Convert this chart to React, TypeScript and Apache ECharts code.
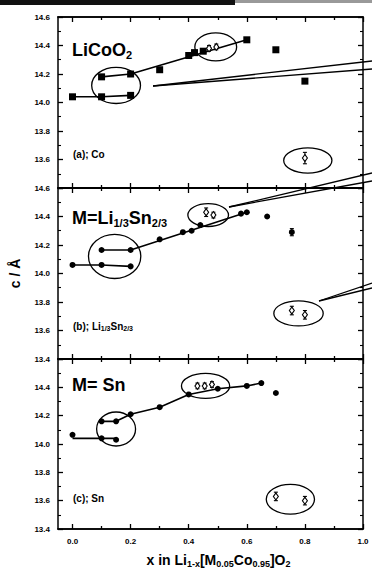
import React, { useEffect, useRef } from "react";
import * as echarts from "echarts";

// ---------- data ----------
// x positions of axis ticks / labels
const xMajorTicks = [0, 0.2, 0.4, 0.6, 0.8, 1.0];
const xMinorTicks = [0.1, 0.3, 0.5, 0.7, 0.9];

// Panel (a): Co — filled squares
const coFilled = [
  [0, 14.04], [0.1, 14.18], [0.1, 14.04], [0.2, 14.2], [0.2, 14.05],
  [0.3, 14.23], [0.4, 14.33], [0.42, 14.35], [0.45, 14.36], [0.6, 14.44],
  [0.7, 14.37], [0.8, 14.15],
];
// open diamonds [x, c, err]
const coOpen = [
  [0.47, 14.38, 0.02], [0.495, 14.39, 0.02], [0.8, 13.61, 0.04],
];
const coLineLow = [[0, 14.04], [0.1, 14.04], [0.2, 14.05]];
const coLineHigh = [[0.1, 14.18], [0.2, 14.2], [0.6, 14.44]];
// ellipses [cx, cy, rx, ry]
const coEllipses = [
  [0.15, 14.12, 0.084, 0.127], [0.493, 14.39, 0.072, 0.098], [0.81, 13.593, 0.083, 0.088],
];

// Panel (b): Li1/3Sn2/3 — filled circles
const lsFilled = [
  [0, 14.06], [0.1, 14.165], [0.1, 14.06], [0.2, 14.165], [0.2, 14.05],
  [0.3, 14.24], [0.38, 14.29], [0.41, 14.3], [0.44, 14.34], [0.58, 14.42],
  [0.6, 14.43], [0.67, 14.4], [0.755, 14.29],
];
const lsFilledErr = [[0.755, 14.29, 0.025]];
const lsOpen = [
  [0.46, 14.43, 0.03], [0.485, 14.41, 0.02], [0.755, 13.74, 0.03], [0.8, 13.71, 0.03],
];
const lsLineLow = [[0, 14.06], [0.1, 14.06], [0.2, 14.05]];
const lsLineHigh = [[0.1, 14.165], [0.2, 14.165], [0.6, 14.43]];
const lsEllipses = [
  [0.145, 14.12, 0.09, 0.155], [0.467, 14.41, 0.07, 0.08], [0.778, 13.72, 0.085, 0.088],
];

// Panel (c): Sn — filled circles
const snFilled = [
  [0, 14.065], [0.1, 14.16], [0.1, 14.04], [0.15, 14.16], [0.15, 14.03],
  [0.2, 14.21], [0.3, 14.26], [0.4, 14.35], [0.5, 14.39], [0.6, 14.41],
  [0.65, 14.43], [0.7, 14.36],
];
const snOpen = [
  [0.43, 14.41, 0.02], [0.455, 14.41, 0.02], [0.48, 14.42, 0.02],
  [0.7, 13.63, 0.03], [0.8, 13.6, 0.03],
];
const snLineLow = [[0, 14.04], [0.1, 14.04], [0.15, 14.04]];
const snLineHigh = [
  [0.1, 14.16], [0.15, 14.16], [0.2, 14.21], [0.3, 14.26], [0.4, 14.35],
  [0.5, 14.39], [0.6, 14.41], [0.65, 14.43],
];
const snEllipses = [
  [0.15, 14.106, 0.067, 0.12], [0.458, 14.41, 0.083, 0.088], [0.75, 13.61, 0.083, 0.105],
];

const panels = [
  { filled: coFilled, filledErr: [] as number[][], open: coOpen, lines: [coLineLow, coLineHigh], ellipses: coEllipses, symbol: "rect" },
  { filled: lsFilled, filledErr: lsFilledErr, open: lsOpen, lines: [lsLineLow, lsLineHigh], ellipses: lsEllipses, symbol: "circle" },
  { filled: snFilled, filledErr: [] as number[][], open: snOpen, lines: [snLineLow, snLineHigh], ellipses: snEllipses, symbol: "circle" },
];

const FONT = "'Liberation Sans', Arial, sans-serif";

export default function App() {
  const ref = useRef<HTMLDivElement>(null);
  useEffect(() => {
    document.body.style.margin = "0";
    if (!ref.current) return;
    const chart = echarts.init(ref.current, undefined, { renderer: "svg" });

    const gridTops = [17, 188, 359];
    const gridH = 171;
    const grids = gridTops.map((t) => ({ left: 58, right: 9, top: t, height: gridH }));

    const xAxes: any[] = [];
    const yAxes: any[] = [];
    const series: any[] = [];

    const errRender = (params: any, api: any) => {
      const x = api.value(0), y = api.value(1), e = api.value(2);
      const t = api.coord([x, y + e]);
      const b = api.coord([x, y - e]);
      const w = 2;
      const st = { stroke: "#000", lineWidth: 1.1 };
      return {
        type: "group",
        children: [
          { type: "line", shape: { x1: t[0], y1: t[1], x2: b[0], y2: b[1] }, style: st },
          { type: "line", shape: { x1: t[0] - w, y1: t[1], x2: t[0] + w, y2: t[1] }, style: st },
          { type: "line", shape: { x1: b[0] - w, y1: b[1], x2: b[0] + w, y2: b[1] }, style: st },
        ],
      };
    };
    const ellRender = (params: any, api: any) => {
      const c = api.coord([api.value(0), api.value(1)]);
      const s = api.size([api.value(2), api.value(3)]);
      return {
        type: "ellipse",
        shape: { cx: c[0], cy: c[1], rx: s[0], ry: s[1] },
        style: { fill: "none", stroke: "#000", lineWidth: 1.3 },
      };
    };

    panels.forEach((p, g) => {
      const isLast = g === 2;
      const baseX = (pos: string, ticks: number[], len: number, labels: boolean) => ({
        type: "value",
        gridIndex: g,
        position: pos,
        min: -0.05,
        max: 1.0,
        axisLine: { show: true, onZero: false, lineStyle: { color: "#000", width: 1.5 } },
        axisTick: { show: true, inside: true, length: len, customValues: ticks, lineStyle: { color: "#000", width: 1.3 } },
        axisLabel: labels
          ? {
              show: true,
              customValues: xMajorTicks,
              formatter: (v: number) => v.toFixed(1),
              fontFamily: FONT,
              fontWeight: "bold",
              fontSize: 8,
              color: "#000",
              margin: 8,
            }
          : { show: false },
        splitLine: { show: false },
      });
      const xb: any = baseX("bottom", xMajorTicks, 5, isLast);
      if (isLast) {
        Object.assign(xb, {
          name: "{t|x in Li}{s|1-x}{t|[M}{s|0.05}{t|Co}{s|0.95}{t|]O}{s|2}",
          nameLocation: "middle",
          nameGap: 22,
          nameTextStyle: {
            padding: [0, 0, 0, 16],
            rich: {
              t: { fontFamily: FONT, fontWeight: "bold", fontSize: 14, color: "#000" },
              s: { fontFamily: FONT, fontWeight: "bold", fontSize: 9, color: "#000", padding: [8, 0, 0, 0] },
            },
          },
        });
      }
      xAxes.push(xb);
      xAxes.push(baseX("bottom", xMinorTicks, 3, false));
      xAxes.push(baseX("top", xMajorTicks, 5, false));
      xAxes.push(baseX("top", xMinorTicks, 3, false));

      const baseY = (pos: string, labels: boolean) => ({
        type: "value",
        gridIndex: g,
        position: pos,
        min: 13.4,
        max: 14.6,
        interval: 0.2,
        axisLine: { show: true, onZero: false, lineStyle: { color: "#000", width: 1.5 } },
        axisTick: { show: true, inside: true, length: 5, lineStyle: { color: "#000", width: 1.3 } },
        minorTick: { show: true, splitNumber: 2, length: 3, lineStyle: { color: "#000", width: 1.1 } },
        axisLabel: labels
          ? {
              show: true,
              formatter: (v: number) => v.toFixed(1),
              fontFamily: FONT,
              fontWeight: "bold",
              fontSize: 8,
              color: "#000",
              margin: 8,
              showMinLabel: g !== 0,
              showMaxLabel: g !== 2,
            }
          : { show: false },
        splitLine: { show: false },
      });
      const yl: any = baseY("left", true);
      if (g === 1) {
        Object.assign(yl, {
          name: "c / Å",
          nameLocation: "middle",
          nameGap: 36,
          nameRotate: 90,
          nameTextStyle: { fontFamily: FONT, fontWeight: "bold", fontSize: 14, color: "#000" },
        });
      }
      yAxes.push(yl);
      yAxes.push(baseY("right", false));

      const xi = g * 4;
      const yi = g * 2;
      p.lines.forEach((ln) => {
        series.push({
          type: "line",
          xAxisIndex: xi,
          yAxisIndex: yi,
          data: ln,
          symbol: "none",
          lineStyle: { color: "#000", width: 1.6 },
          silent: true,
          z: 2,
        });
      });
      series.push({
        type: "custom",
        xAxisIndex: xi,
        yAxisIndex: yi,
        data: p.ellipses,
        renderItem: ellRender,
        encode: { x: 0, y: 1 },
        z: 1,
      });
      series.push({
        type: "scatter",
        xAxisIndex: xi,
        yAxisIndex: yi,
        data: p.filled,
        symbol: p.symbol,
        symbolSize: p.symbol === "rect" ? 7 : 6,
        itemStyle: { color: "#000", opacity: 1 },
        z: 3,
      });
      series.push({
        type: "custom",
        xAxisIndex: xi,
        yAxisIndex: yi,
        data: [...p.open, ...p.filledErr],
        renderItem: errRender,
        encode: { x: 0, y: 1 },
        z: 4,
      });
      series.push({
        type: "scatter",
        xAxisIndex: xi,
        yAxisIndex: yi,
        data: p.open.map((d) => [d[0], d[1]]),
        symbol: "diamond",
        symbolSize: [5, 7],
        itemStyle: { color: "#fff", borderColor: "#000", borderWidth: 1.1, opacity: 1 },
        z: 5,
      });
    });

    const lineStyle = { stroke: "#000", lineWidth: 1.3 };
    const mkLine = (x1: number, y1: number, x2: number, y2: number) => ({
      type: "line",
      shape: { x1, y1, x2, y2 },
      style: lineStyle,
      z: 10,
    });
    const bigText = (x: number, y: number, text: string) => ({
      type: "text",
      x,
      y,
      style: {
        text,
        rich: {
          t: { fontFamily: FONT, fontWeight: "bold", fontSize: 18, fill: "#000" },
          s: { fontFamily: FONT, fontWeight: "bold", fontSize: 11, fill: "#000", padding: [9, 0, 0, 0] },
        },
        verticalAlign: "top",
      },
      z: 10,
    });
    const smallText = (x: number, y: number, text: string) => ({
      type: "text",
      x,
      y,
      style: {
        text,
        rich: {
          t: { fontFamily: FONT, fontWeight: "bold", fontSize: 10, fill: "#000" },
          s: { fontFamily: FONT, fontWeight: "bold", fontSize: 7, fill: "#000", padding: [5, 0, 0, 0] },
        },
        verticalAlign: "middle",
      },
      z: 10,
    });

    chart.setOption({
      animation: false,
      backgroundColor: "#fff",
      grid: grids,
      xAxis: xAxes,
      yAxis: yAxes,
      series,
      graphic: [
        { type: "rect", shape: { x: 0, y: 0, width: 235, height: 5 }, style: { fill: "#111" }, z: 10 },
        { type: "rect", shape: { x: 235, y: 0, width: 137, height: 3 }, style: { fill: "#999" }, z: 10 },
        mkLine(153, 86, 372, 61),
        mkLine(153, 86, 372, 69),
        mkLine(229, 207, 372, 173),
        mkLine(229, 207, 372, 181),
        mkLine(319, 301, 372, 283),
        mkLine(319, 301, 372, 288),
        bigText(72, 40, "{t|LiCoO}{s|2}"),
        bigText(72, 208, "{t|M=Li}{s|1/3}{t|Sn}{s|2/3}"),
        bigText(72, 376, "{t|M= Sn}"),
        smallText(73, 154, "{t|(a); Co}"),
        smallText(73, 326, "{t|(b); Li}{s|1/3}{t|Sn}{s|2/3}"),
        smallText(73, 498, "{t|(c); Sn}"),
      ],
    });
    return () => chart.dispose();
  }, []);
  return <div ref={ref} style={{ position: "fixed", left: 0, top: 0, width: 372, height: 569 }} />;
}
